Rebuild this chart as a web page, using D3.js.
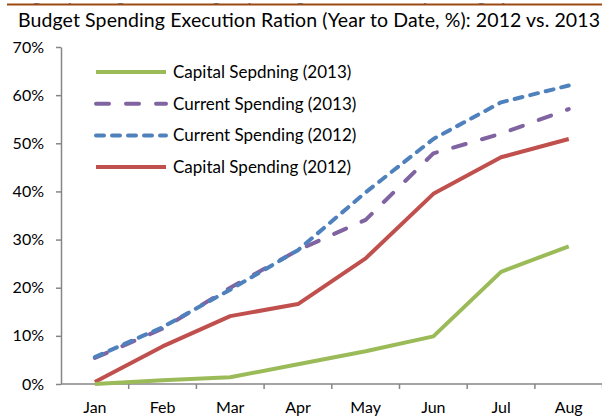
<!DOCTYPE html>
<html>
<head>
<meta charset="utf-8">
<script src="https://cdn.jsdelivr.net/npm/d3@7"></script>
<style>
  body { margin: 0; background: #fff; }
  text { font-family: Lato, "Open Sans", sans-serif; fill: #000; }
</style>
</head>
<body>
<div id="viz"></div>
<script>
const width = 602;
const height = 417;
const margin = {top: 47, right: 0, bottom: 33, left: 61};

// Data
const months = ['Jan', 'Feb', 'Mar', 'Apr', 'May', 'Jun', 'Jul', 'Aug'];
const yTicks = [0, 10, 20, 30, 40, 50, 60, 70];
const capital2013 = [0, 0.8, 1.4, 4.1, 6.8, 9.9, 23.3, 28.6];
const current2013 = [5.4, 11.5, 20.0, 27.8, 34.1, 47.9, 52.0, 57.1];
const current2012 = [5.6, 11.8, 19.6, 27.8, 39.8, 50.9, 58.5, 62.0];
const capital2012 = [0.4, 7.8, 14.1, 16.6, 26.1, 39.5, 47.1, 50.9];

const seriesNames = ['Capital Sepdning (2013)', 'Current Spending (2013)', 'Current Spending (2012)', 'Capital Spending (2012)'];
const seriesValues = [capital2013, current2013, current2012, capital2012];
const seriesColors = ['#9BBB59', '#8064A2', '#4F81BD', '#C0504D'];
const seriesDash = [null, '13,17', '8,8', null];

// Scales
const x = d3.scaleBand()
  .domain(months)
  .range([margin.left, margin.left + 8 * 67.7]);
const y = d3.scaleLinear()
  .domain([0, 70])
  .range([height - margin.bottom, margin.top]);

const svg = d3.select('#viz')
  .append('svg')
    .attr('width', width)
    .attr('height', height);

// Cut-off header above the rule
svg.append('text')
  .attr('x', 4)
  .attr('y', 1)
  .text('Budget Spending Trends: Budget Spending Execution Slowly Picking Up')
  .style('font-size', '16px')
  .style('font-weight', 700)
  .style('fill', '#4F81BD');
svg.append('rect')
  .attr('x', 0).attr('y', 0)
  .attr('width', width).attr('height', 3)
  .attr('fill', '#fff');
svg.append('line')
  .attr('x1', 7).attr('x2', width)
  .attr('y1', 4.5).attr('y2', 4.5)
  .attr('stroke', '#9C4A12')
  .attr('stroke-width', 2);

// Title
svg.append('text')
  .attr('x', 18)
  .attr('y', 27)
  .text('Budget Spending Execution Ration (Year to Date, %): 2012 vs. 2013')
  .attr('textLength', 582)
  .style('font-size', '19.5px');

// Y axis
const yAxis = svg.append('g')
  .attr('transform', `translate(${margin.left},0)`)
  .call(d3.axisLeft(y).tickValues(yTicks).tickFormat(d => d + '%').tickSize(5).tickSizeOuter(0));
yAxis.select('.domain').attr('stroke', '#868686').attr('stroke-width', 1.5);
yAxis.selectAll('.tick line').attr('stroke', '#868686').attr('stroke-width', 1.5);
yAxis.selectAll('.tick text')
  .attr('x', -17)
  .style('font-size', '16px')
  .style('font-family', 'Lato, sans-serif');

// X axis
const xAxis = svg.append('g')
  .attr('transform', `translate(0,${y(0)})`)
  .call(d3.axisBottom(x).tickSize(0).tickSizeOuter(0));
xAxis.select('.domain').attr('stroke', '#868686').attr('stroke-width', 1.5)
  .attr('d', `M${margin.left},0H${width}`);
xAxis.selectAll('.tick text')
  .attr('y', 18)
  .style('font-size', '16px')
  .style('font-family', 'Lato, sans-serif');
xAxis.selectAll('.boundary')
  .data(months)
  .join('line')
    .attr('class', 'boundary')
    .attr('x1', d => x(d) + x.bandwidth())
    .attr('x2', d => x(d) + x.bandwidth())
    .attr('y1', 0)
    .attr('y2', 5)
    .attr('stroke', '#868686')
    .attr('stroke-width', 1.5);

// Lines
const line = d3.line()
  .x((d, i) => x(months[i]) + x.bandwidth() / 2)
  .y(d => y(d));

// draw order: solid lines first, dashed on top
[3, 0, 1, 2].forEach(k => {
  svg.append('path')
    .attr('d', line(seriesValues[k]))
    .attr('fill', 'none')
    .attr('stroke', seriesColors[k])
    .attr('stroke-width', 4)
    .attr('stroke-linecap', seriesDash[k] ? 'round' : 'butt')
    .attr('stroke-linejoin', 'round')
    .attr('stroke-dasharray', seriesDash[k]);
});

// Legend
const legend = svg.append('g').attr('class', 'legend');
seriesNames.forEach((name, k) => {
  const ly = 72 + k * 31.7;
  legend.append('line')
    .attr('x1', 96).attr('x2', 166)
    .attr('y1', ly).attr('y2', ly)
    .attr('stroke', seriesColors[k])
    .attr('stroke-width', 4)
    .attr('stroke-linecap', seriesDash[k] ? 'round' : 'butt')
    .attr('stroke-dasharray', seriesDash[k]);
  legend.append('text')
    .attr('x', 173)
    .attr('y', ly + 6)
    .text(name)
    .style('font-size', '17px');
});
</script>
</body>
</html>
